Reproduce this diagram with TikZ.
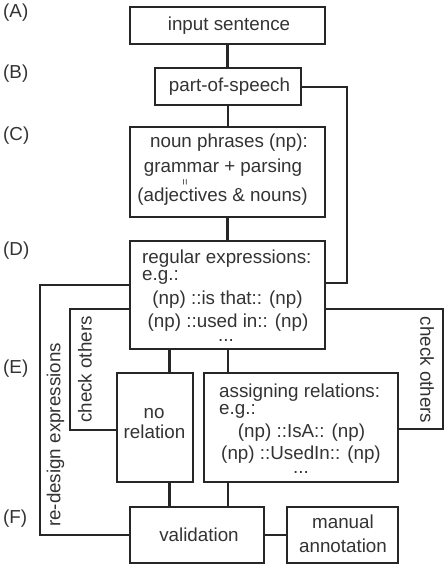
\documentclass[tikz,border=0pt]{standalone}
\usepackage{fontspec}
\setmainfont{Liberation Sans}
\begin{document}
\begin{tikzpicture}[x=1pt,y=-1pt,
  box/.style={draw=black!85, line width=2.8pt, inner sep=0pt, rectangle},
  ln/.style={draw=black!85, line width=2.8pt},
  txt/.style={inner sep=0pt, anchor=base, text=black!80, font=\fontsize{18.8}{22}\selectfont},
  txtl/.style={txt, anchor=base west},
  vtxt/.style={inner sep=0pt, text=black!80, font=\fontsize{18.8}{22}\selectfont}]
\useasboundingbox (0,0) rectangle (447,569);
% boxes
\node[box, minimum width=195pt, minimum height=37pt] (inp) at (227.5,25.5) {};
\node[box, minimum width=146pt, minimum height=37pt] (pos) at (228,86.5) {};
\node[box, minimum width=195pt, minimum height=90pt] (np) at (227.5,172) {};
\node[box, minimum width=195pt, minimum height=108pt] (re) at (227.5,295) {};
\node[box, minimum width=76pt, minimum height=109pt] (nor) at (155,427.5) {};
\node[box, minimum width=194pt, minimum height=109pt] (asg) at (301,427.5) {};
\node[box, minimum width=134pt, minimum height=56pt] (val) at (197,535) {};
\node[box, minimum width=111pt, minimum height=56pt] (man) at (342.5,535) {};
% texts
\node[txt] (tinp) at (229,31) {input sentence};
\node[txt] (tpos) at (229.5,92) {part-of-speech};
\node[txt] (tnp1) at (229,148) {noun phrases (np):};
\node[txt] (tnp2) at (223,172.5) {grammar + parsing};
\node[inner sep=0pt, rotate=90, text=black!80, font=\fontsize{11}{11}\selectfont] (teq) at (186,182) {=};
\node[txt] (tnp3) at (222.5,201.5) {(adjectives \& nouns)};
\node[txtl] (tre1) at (142,263) {regular expressions:};
\node[txtl] (tre2) at (142,280.5) {e.g.:};
\node[txt] (tre3) at (227.5,304) {(np) ::is that:: (np)};
\node[txt] (tre4) at (228,327) {(np) ::used in:: (np)};
\node[txt] (tre5) at (226,341) {...};
\node[txt] (tno1) at (154,418) {no};
\node[txt] (tno2) at (154.5,438) {relation};
\node[txtl] (tas1) at (219,397) {assigning relations:};
\node[txtl] (tas2) at (219,414) {e.g.:};
\node[txt] (tas3) at (301.5,437) {(np) ::IsA:: (np)};
\node[txt] (tas4) at (301,459.5) {(np) ::UsedIn:: (np)};
\node[txt] (tas5) at (301,473) {...};
\node[txt] (tval) at (199,541) {validation};
\node[txt] (tman1) at (343,528) {manual};
\node[txt] (tman2) at (343,552) {annotation};
% side rotated labels
\node[vtxt, rotate=90] (lred) at (55.5,435) {re-design expressions};
\node[vtxt, rotate=90] (lchl) at (85,369.5) {check others};
\node[vtxt, rotate=-90] (lchr) at (427,370) {check others};
% row labels
\node[txtl] (la) at (3,18) {(A)};
\node[txtl] (lb) at (3,79) {(B)};
\node[txtl] (lc) at (3,141) {(C)};
\node[txtl] (ld) at (3,255) {(D)};
\node[txtl] (le) at (3,373) {(E)};
\node[txtl] (lf) at (3,523) {(F)};
% connector corner coordinates
\coordinate (c1) at (347,87);
\coordinate (c2) at (347,283);
\coordinate (d1) at (40,285);
\coordinate (d2) at (40,535);
\coordinate (e1) at (70,309);
\coordinate (e2) at (70,430);
\coordinate (f1) at (443,309);
\coordinate (f2) at (443,429);
\coordinate (v1) at (169.5,0);
\coordinate (v2) at (228,0);
% connectors
\draw[ln] (inp.south) -- (inp.south |- pos.north);
\draw[ln] (pos.south) -- (pos.south |- np.north);
\draw[ln] (np.south) -- (np.south |- re.north);
\draw[ln] (pos.east |- c1) -- (c1) -- (c2) -- (re.east |- c2);
\draw[ln] (re.west |- d1) -- (d1) -- (d2) -- (val.west);
\draw[ln] (re.west |- e1) -- (e1) -- (e2) -- (nor.west |- e2);
\draw[ln] (re.east |- f1) -- (f1) -- (f2) -- (asg.east |- f2);
\draw[ln] (re.south -| v1) -- (nor.north -| v1);
\draw[ln] (nor.south -| v1) -- (val.north -| v1);
\draw[ln] (re.south -| v2) -- (asg.north -| v2);
\draw[ln] (asg.south -| v2) -- (val.north -| v2);
\draw[ln] (val.east) -- (man.west);
\end{tikzpicture}
\end{document}
